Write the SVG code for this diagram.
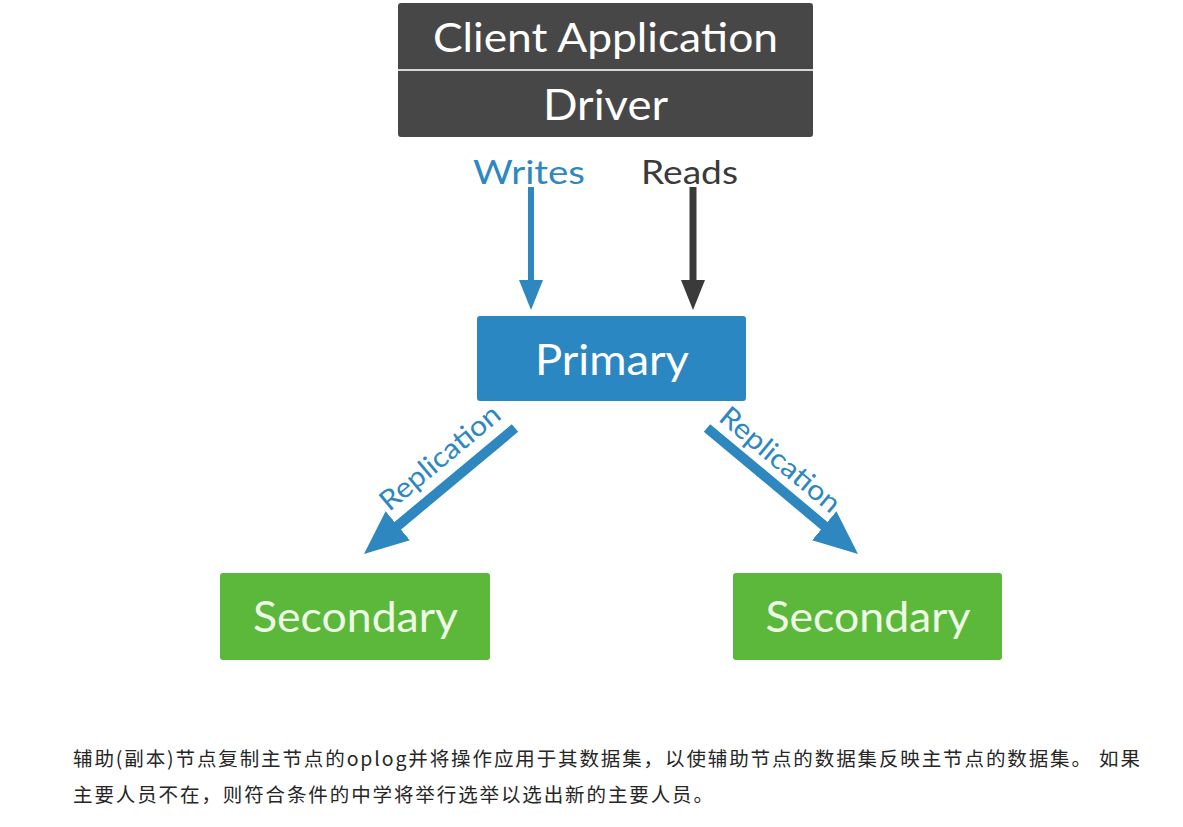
<svg xmlns="http://www.w3.org/2000/svg" width="1183" height="827" viewBox="0 0 1183 827">
<style>
.lbl{font-family:Lato,"Open Sans","Liberation Sans",sans-serif;}
.white{fill:#ffffff;}
.sec{fill:#eefae6;}
.blue{fill:#2e88bf;}
.dark{fill:#3a3a3a;}
.note{font-family:"Noto Sans CJK SC","Noto Sans",sans-serif;font-size:19.5px;fill:#262626;}
</style>
<defs>
<marker id="hBlue" markerUnits="userSpaceOnUse" markerWidth="30" markerHeight="24" refX="4" refY="12" orient="auto">
<path d="M0,0 L30,12 L0,24 z" fill="#2e88bf"/>
</marker>
<marker id="hDark" markerUnits="userSpaceOnUse" markerWidth="30" markerHeight="24" refX="4" refY="12" orient="auto">
<path d="M0,0 L30,12 L0,24 z" fill="#3a3a3a"/>
</marker>
<marker id="hRep" markerUnits="userSpaceOnUse" markerWidth="44" markerHeight="38" refX="4" refY="19" orient="auto">
<path d="M0,0 L44,19 L0,38 z" fill="#2e88bf"/>
</marker>
</defs>
<rect width="1183" height="827" fill="#ffffff"/>

<g id="client">
<rect x="398" y="3" width="415" height="134" rx="3" fill="#484747"/>
<line x1="398" y1="70" x2="813" y2="70" stroke="#d8d8d8" stroke-width="2"/>
<text class="lbl white" x="605.5" y="52" font-size="41" text-anchor="middle" textLength="345" lengthAdjust="spacingAndGlyphs">Client Application</text>
<text class="lbl white" x="605.5" y="120" font-size="42" text-anchor="middle" textLength="125" lengthAdjust="spacingAndGlyphs">Driver</text>
</g>

<g id="primary">
<rect x="477" y="316" width="269" height="85" rx="3" fill="#2b87c2"/>
<text class="lbl white" x="612" y="375" font-size="42" text-anchor="middle" textLength="154" lengthAdjust="spacingAndGlyphs">Primary</text>
</g>

<g id="secondary1">
<rect x="220" y="573" width="270" height="87" rx="3" fill="#5cb83b"/>
<text class="lbl sec" x="355.5" y="632" font-size="43" text-anchor="middle" textLength="205" lengthAdjust="spacingAndGlyphs">Secondary</text>
</g>

<g id="secondary2">
<rect x="733" y="573" width="269" height="87" rx="3" fill="#5cb83b"/>
<text class="lbl sec" x="868" y="632" font-size="43" text-anchor="middle" textLength="205" lengthAdjust="spacingAndGlyphs">Secondary</text>
</g>

<g id="connectors">
<line x1="531" y1="187" x2="531" y2="284" stroke="#2e88bf" stroke-width="6" marker-end="url(#hBlue)"/>
<line x1="693" y1="187" x2="693" y2="284" stroke="#3a3a3a" stroke-width="7" marker-end="url(#hDark)"/>
<line x1="515" y1="428" x2="394.7" y2="528.3" stroke="#2e88bf" stroke-width="10" marker-end="url(#hRep)"/>
<line x1="707" y1="428" x2="827.3" y2="528.3" stroke="#2e88bf" stroke-width="10" marker-end="url(#hRep)"/>
<text class="lbl blue" x="529" y="184" font-size="33" text-anchor="middle" textLength="112" lengthAdjust="spacingAndGlyphs">Writes</text>
<text class="lbl dark" x="689.5" y="184" font-size="33" text-anchor="middle" textLength="97" lengthAdjust="spacingAndGlyphs">Reads</text>
<text class="lbl blue" transform="translate(446,465) rotate(-39.8)" x="0" y="0" font-size="28" text-anchor="middle" textLength="148" lengthAdjust="spacingAndGlyphs">Replication</text>
<text class="lbl blue" transform="translate(774,467) rotate(39.8)" x="0" y="0" font-size="28" text-anchor="middle" textLength="148" lengthAdjust="spacingAndGlyphs">Replication</text>
</g>

<g id="note">
<text class="note" x="73" y="766" textLength="1067" lengthAdjust="spacing">辅助(副本)节点复制主节点的oplog并将操作应用于其数据集，以使辅助节点的数据集反映主节点的数据集。 如果</text>
<text class="note" x="73" y="802" textLength="640" lengthAdjust="spacing">主要人员不在，则符合条件的中学将举行选举以选出新的主要人员。</text>
</g>
</svg>
